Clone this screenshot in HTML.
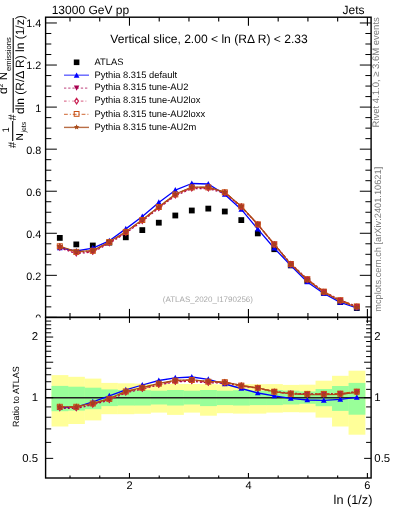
<!DOCTYPE html><html><head><meta charset="utf-8"><style>html,body{margin:0;padding:0;background:#fff;}svg{display:block;will-change:transform;}text{font-family:"Liberation Sans", sans-serif;text-rendering:geometricPrecision;}</style></head><body>
<svg width="393" height="512" viewBox="0 0 393 512">
<rect x="0" y="0" width="393" height="512" fill="#fff"/>
<rect x="51.55" y="375.10" width="16.80" height="51.40" fill="#ffff99"/>
<rect x="68.05" y="376.80" width="16.80" height="47.20" fill="#ffff99"/>
<rect x="84.55" y="378.60" width="16.80" height="41.80" fill="#ffff99"/>
<rect x="101.05" y="382.90" width="16.80" height="31.30" fill="#ffff99"/>
<rect x="117.55" y="383.30" width="16.80" height="30.90" fill="#ffff99"/>
<rect x="134.05" y="383.60" width="16.80" height="30.20" fill="#ffff99"/>
<rect x="150.55" y="384.00" width="16.80" height="28.60" fill="#ffff99"/>
<rect x="167.05" y="384.00" width="16.80" height="30.90" fill="#ffff99"/>
<rect x="183.55" y="384.00" width="16.80" height="28.60" fill="#ffff99"/>
<rect x="200.05" y="384.20" width="16.80" height="31.50" fill="#ffff99"/>
<rect x="216.55" y="384.40" width="16.80" height="28.80" fill="#ffff99"/>
<rect x="233.05" y="384.20" width="16.80" height="29.40" fill="#ffff99"/>
<rect x="249.55" y="384.20" width="16.80" height="29.40" fill="#ffff99"/>
<rect x="266.05" y="384.10" width="16.80" height="28.50" fill="#ffff99"/>
<rect x="282.55" y="384.90" width="16.80" height="27.30" fill="#ffff99"/>
<rect x="299.05" y="384.70" width="16.80" height="27.70" fill="#ffff99"/>
<rect x="315.55" y="380.70" width="16.80" height="36.90" fill="#ffff99"/>
<rect x="332.05" y="375.80" width="16.80" height="50.70" fill="#ffff99"/>
<rect x="348.55" y="370.70" width="16.80" height="64.00" fill="#ffff99"/>
<rect x="51.55" y="385.90" width="16.80" height="25.30" fill="#99ff99"/>
<rect x="68.05" y="386.70" width="16.80" height="23.90" fill="#99ff99"/>
<rect x="84.55" y="387.70" width="16.80" height="21.50" fill="#99ff99"/>
<rect x="101.05" y="389.40" width="16.80" height="16.70" fill="#99ff99"/>
<rect x="117.55" y="390.00" width="16.80" height="15.50" fill="#99ff99"/>
<rect x="134.05" y="390.20" width="16.80" height="15.30" fill="#99ff99"/>
<rect x="150.55" y="390.70" width="16.80" height="13.80" fill="#99ff99"/>
<rect x="167.05" y="390.00" width="16.80" height="15.50" fill="#99ff99"/>
<rect x="183.55" y="390.70" width="16.80" height="13.80" fill="#99ff99"/>
<rect x="200.05" y="390.00" width="16.80" height="16.10" fill="#99ff99"/>
<rect x="216.55" y="390.70" width="16.80" height="14.40" fill="#99ff99"/>
<rect x="233.05" y="390.20" width="16.80" height="15.30" fill="#99ff99"/>
<rect x="249.55" y="390.70" width="16.80" height="14.40" fill="#99ff99"/>
<rect x="266.05" y="390.00" width="16.80" height="15.10" fill="#99ff99"/>
<rect x="282.55" y="390.70" width="16.80" height="13.80" fill="#99ff99"/>
<rect x="299.05" y="391.50" width="16.80" height="12.30" fill="#99ff99"/>
<rect x="315.55" y="389.00" width="16.80" height="17.20" fill="#99ff99"/>
<rect x="332.05" y="386.00" width="16.80" height="24.90" fill="#99ff99"/>
<rect x="348.55" y="382.90" width="16.80" height="31.80" fill="#99ff99"/>
<line x1="45.6" y1="397.7" x2="371.1" y2="397.7" stroke="#222" stroke-width="1.4"/>
<defs><clipPath id="cm"><rect x="45.6" y="17.2" width="325.5" height="300.2"/></clipPath><clipPath id="cr"><rect x="45.6" y="317.4" width="325.5" height="160.6"/></clipPath></defs>
<g clip-path="url(#cm)"><rect x="56.90" y="235.00" width="5.80" height="5.80" fill="#000"/><rect x="73.40" y="241.50" width="5.80" height="5.80" fill="#000"/><rect x="89.90" y="242.60" width="5.80" height="5.80" fill="#000"/><rect x="106.40" y="239.70" width="5.80" height="5.80" fill="#000"/><rect x="122.90" y="234.40" width="5.80" height="5.80" fill="#000"/><rect x="139.40" y="227.20" width="5.80" height="5.80" fill="#000"/><rect x="155.90" y="219.80" width="5.80" height="5.80" fill="#000"/><rect x="172.40" y="212.60" width="5.80" height="5.80" fill="#000"/><rect x="188.90" y="207.60" width="5.80" height="5.80" fill="#000"/><rect x="205.40" y="205.70" width="5.80" height="5.80" fill="#000"/><rect x="221.90" y="208.60" width="5.80" height="5.80" fill="#000"/><rect x="238.40" y="217.20" width="5.80" height="5.80" fill="#000"/><rect x="254.90" y="230.50" width="5.80" height="5.80" fill="#000"/><rect x="271.40" y="246.30" width="5.80" height="5.80" fill="#000"/><rect x="287.90" y="262.50" width="5.80" height="5.80" fill="#000"/><rect x="304.40" y="278.00" width="5.80" height="5.80" fill="#000"/><rect x="320.90" y="289.90" width="5.80" height="5.80" fill="#000"/><rect x="337.40" y="299.20" width="5.80" height="5.80" fill="#000"/><rect x="353.90" y="305.10" width="5.80" height="5.80" fill="#000"/><polyline points="59.80,247.90 76.30,251.00 92.80,248.20 109.30,240.80 125.80,228.90 142.30,216.60 158.80,202.40 175.30,190.20 191.80,183.50 208.30,184.00 224.80,194.40 241.30,209.40 257.80,229.20 274.30,248.20 290.80,265.50 307.30,282.00 323.80,293.50 340.30,302.40 356.80,308.00" fill="none" stroke="#0000ff" stroke-width="1.30" stroke-linejoin="round"/><path d="M59.80,244.78 L56.94,250.24 L62.66,250.24 Z" fill="#0000ff"/><path d="M76.30,247.88 L73.44,253.34 L79.16,253.34 Z" fill="#0000ff"/><path d="M92.80,245.08 L89.94,250.54 L95.66,250.54 Z" fill="#0000ff"/><path d="M109.30,237.68 L106.44,243.14 L112.16,243.14 Z" fill="#0000ff"/><path d="M125.80,225.78 L122.94,231.24 L128.66,231.24 Z" fill="#0000ff"/><path d="M142.30,213.48 L139.44,218.94 L145.16,218.94 Z" fill="#0000ff"/><path d="M158.80,199.28 L155.94,204.74 L161.66,204.74 Z" fill="#0000ff"/><path d="M175.30,187.08 L172.44,192.54 L178.16,192.54 Z" fill="#0000ff"/><path d="M191.80,180.38 L188.94,185.84 L194.66,185.84 Z" fill="#0000ff"/><path d="M208.30,180.88 L205.44,186.34 L211.16,186.34 Z" fill="#0000ff"/><path d="M224.80,191.28 L221.94,196.74 L227.66,196.74 Z" fill="#0000ff"/><path d="M241.30,206.28 L238.44,211.74 L244.16,211.74 Z" fill="#0000ff"/><path d="M257.80,226.08 L254.94,231.54 L260.66,231.54 Z" fill="#0000ff"/><path d="M274.30,245.08 L271.44,250.54 L277.16,250.54 Z" fill="#0000ff"/><path d="M290.80,262.38 L287.94,267.84 L293.66,267.84 Z" fill="#0000ff"/><path d="M307.30,278.88 L304.44,284.34 L310.16,284.34 Z" fill="#0000ff"/><path d="M323.80,290.38 L320.94,295.84 L326.66,295.84 Z" fill="#0000ff"/><path d="M340.30,299.28 L337.44,304.74 L343.16,304.74 Z" fill="#0000ff"/><path d="M356.80,304.88 L353.94,310.34 L359.66,310.34 Z" fill="#0000ff"/><polyline points="59.80,247.80 76.30,253.60 92.80,252.00 109.30,243.30 125.80,233.10 142.30,221.20 158.80,208.20 175.30,195.60 191.80,188.60 208.30,188.60 224.80,193.10 241.30,206.90 257.80,224.50 274.30,244.10 290.80,263.60 307.30,279.20 323.80,291.60 340.30,300.20 356.80,306.40" fill="none" stroke="#a80050" stroke-width="1.30" stroke-dasharray="2,2" stroke-linejoin="round"/><polyline points="59.80,246.80 76.30,252.60 92.80,251.30 109.30,242.60 125.80,232.40 142.30,220.50 158.80,207.50 175.30,194.90 191.80,187.90 208.30,187.90 224.80,192.60 241.30,206.70 257.80,224.60 274.30,244.60 290.80,264.20 307.30,279.70 323.80,292.10 340.30,300.70 356.80,306.90" fill="none" stroke="#c81e50" stroke-width="1.30" stroke-dasharray="4,2,1,2" stroke-linejoin="round"/><polyline points="59.80,246.30 76.30,251.90 92.80,250.80 109.30,242.10 125.80,231.90 142.30,220.00 158.80,207.00 175.30,194.40 191.80,187.40 208.30,187.40 224.80,192.30 241.30,206.50 257.80,224.30 274.30,244.40 290.80,264.20 307.30,279.20 323.80,291.60 340.30,300.20 356.80,306.40" fill="none" stroke="#c85014" stroke-width="1.30" stroke-dasharray="5,2,1,2" stroke-linejoin="round"/><polyline points="59.80,246.30 76.30,251.60 92.80,250.50 109.30,241.80 125.80,231.60 142.30,219.70 158.80,206.70 175.30,194.10 191.80,187.10 208.30,187.10 224.80,192.10 241.30,206.30 257.80,224.30 274.30,244.40 290.80,264.20 307.30,280.00 323.80,292.40 340.30,301.00 356.80,307.20" fill="none" stroke="#a84a18" stroke-width="1.10" stroke-linejoin="round"/><path d="M59.80,251.16 L56.72,245.28 L62.88,245.28 Z" fill="#a80050"/><path d="M76.30,256.96 L73.22,251.08 L79.38,251.08 Z" fill="#a80050"/><path d="M92.80,255.36 L89.72,249.48 L95.88,249.48 Z" fill="#a80050"/><path d="M109.30,246.66 L106.22,240.78 L112.38,240.78 Z" fill="#a80050"/><path d="M125.80,236.46 L122.72,230.58 L128.88,230.58 Z" fill="#a80050"/><path d="M142.30,224.56 L139.22,218.68 L145.38,218.68 Z" fill="#a80050"/><path d="M158.80,211.56 L155.72,205.68 L161.88,205.68 Z" fill="#a80050"/><path d="M175.30,198.96 L172.22,193.08 L178.38,193.08 Z" fill="#a80050"/><path d="M191.80,191.96 L188.72,186.08 L194.88,186.08 Z" fill="#a80050"/><path d="M208.30,191.96 L205.22,186.08 L211.38,186.08 Z" fill="#a80050"/><path d="M224.80,196.46 L221.72,190.58 L227.88,190.58 Z" fill="#a80050"/><path d="M241.30,210.26 L238.22,204.38 L244.38,204.38 Z" fill="#a80050"/><path d="M257.80,227.86 L254.72,221.98 L260.88,221.98 Z" fill="#a80050"/><path d="M274.30,247.46 L271.22,241.58 L277.38,241.58 Z" fill="#a80050"/><path d="M290.80,266.96 L287.72,261.08 L293.88,261.08 Z" fill="#a80050"/><path d="M307.30,282.56 L304.22,276.68 L310.38,276.68 Z" fill="#a80050"/><path d="M323.80,294.96 L320.72,289.08 L326.88,289.08 Z" fill="#a80050"/><path d="M340.30,303.56 L337.22,297.68 L343.38,297.68 Z" fill="#a80050"/><path d="M356.80,309.76 L353.72,303.88 L359.88,303.88 Z" fill="#a80050"/><path d="M59.80,244.00 L62.04,246.80 L59.80,249.60 L57.56,246.80 Z" fill="none" stroke="#c81e50" stroke-width="1.1"/><path d="M76.30,249.80 L78.54,252.60 L76.30,255.40 L74.06,252.60 Z" fill="none" stroke="#c81e50" stroke-width="1.1"/><path d="M92.80,248.50 L95.04,251.30 L92.80,254.10 L90.56,251.30 Z" fill="none" stroke="#c81e50" stroke-width="1.1"/><path d="M109.30,239.80 L111.54,242.60 L109.30,245.40 L107.06,242.60 Z" fill="none" stroke="#c81e50" stroke-width="1.1"/><path d="M125.80,229.60 L128.04,232.40 L125.80,235.20 L123.56,232.40 Z" fill="none" stroke="#c81e50" stroke-width="1.1"/><path d="M142.30,217.70 L144.54,220.50 L142.30,223.30 L140.06,220.50 Z" fill="none" stroke="#c81e50" stroke-width="1.1"/><path d="M158.80,204.70 L161.04,207.50 L158.80,210.30 L156.56,207.50 Z" fill="none" stroke="#c81e50" stroke-width="1.1"/><path d="M175.30,192.10 L177.54,194.90 L175.30,197.70 L173.06,194.90 Z" fill="none" stroke="#c81e50" stroke-width="1.1"/><path d="M191.80,185.10 L194.04,187.90 L191.80,190.70 L189.56,187.90 Z" fill="none" stroke="#c81e50" stroke-width="1.1"/><path d="M208.30,185.10 L210.54,187.90 L208.30,190.70 L206.06,187.90 Z" fill="none" stroke="#c81e50" stroke-width="1.1"/><path d="M224.80,189.80 L227.04,192.60 L224.80,195.40 L222.56,192.60 Z" fill="none" stroke="#c81e50" stroke-width="1.1"/><path d="M241.30,203.90 L243.54,206.70 L241.30,209.50 L239.06,206.70 Z" fill="none" stroke="#c81e50" stroke-width="1.1"/><path d="M257.80,221.80 L260.04,224.60 L257.80,227.40 L255.56,224.60 Z" fill="none" stroke="#c81e50" stroke-width="1.1"/><path d="M274.30,241.80 L276.54,244.60 L274.30,247.40 L272.06,244.60 Z" fill="none" stroke="#c81e50" stroke-width="1.1"/><path d="M290.80,261.40 L293.04,264.20 L290.80,267.00 L288.56,264.20 Z" fill="none" stroke="#c81e50" stroke-width="1.1"/><path d="M307.30,276.90 L309.54,279.70 L307.30,282.50 L305.06,279.70 Z" fill="none" stroke="#c81e50" stroke-width="1.1"/><path d="M323.80,289.30 L326.04,292.10 L323.80,294.90 L321.56,292.10 Z" fill="none" stroke="#c81e50" stroke-width="1.1"/><path d="M340.30,297.90 L342.54,300.70 L340.30,303.50 L338.06,300.70 Z" fill="none" stroke="#c81e50" stroke-width="1.1"/><path d="M356.80,304.10 L359.04,306.90 L356.80,309.70 L354.56,306.90 Z" fill="none" stroke="#c81e50" stroke-width="1.1"/><rect x="57.30" y="243.80" width="5.00" height="5.00" fill="none" stroke="#c85014" stroke-width="1.0"/><rect x="73.80" y="249.40" width="5.00" height="5.00" fill="none" stroke="#c85014" stroke-width="1.0"/><rect x="90.30" y="248.30" width="5.00" height="5.00" fill="none" stroke="#c85014" stroke-width="1.0"/><rect x="106.80" y="239.60" width="5.00" height="5.00" fill="none" stroke="#c85014" stroke-width="1.0"/><rect x="123.30" y="229.40" width="5.00" height="5.00" fill="none" stroke="#c85014" stroke-width="1.0"/><rect x="139.80" y="217.50" width="5.00" height="5.00" fill="none" stroke="#c85014" stroke-width="1.0"/><rect x="156.30" y="204.50" width="5.00" height="5.00" fill="none" stroke="#c85014" stroke-width="1.0"/><rect x="172.80" y="191.90" width="5.00" height="5.00" fill="none" stroke="#c85014" stroke-width="1.0"/><rect x="189.30" y="184.90" width="5.00" height="5.00" fill="none" stroke="#c85014" stroke-width="1.0"/><rect x="205.80" y="184.90" width="5.00" height="5.00" fill="none" stroke="#c85014" stroke-width="1.0"/><rect x="222.30" y="189.80" width="5.00" height="5.00" fill="none" stroke="#c85014" stroke-width="1.0"/><rect x="238.80" y="204.00" width="5.00" height="5.00" fill="none" stroke="#c85014" stroke-width="1.0"/><rect x="255.30" y="221.80" width="5.00" height="5.00" fill="none" stroke="#c85014" stroke-width="1.0"/><rect x="271.80" y="241.90" width="5.00" height="5.00" fill="none" stroke="#c85014" stroke-width="1.0"/><rect x="288.30" y="261.70" width="5.00" height="5.00" fill="none" stroke="#c85014" stroke-width="1.0"/><rect x="304.80" y="276.70" width="5.00" height="5.00" fill="none" stroke="#c85014" stroke-width="1.0"/><rect x="321.30" y="289.10" width="5.00" height="5.00" fill="none" stroke="#c85014" stroke-width="1.0"/><rect x="337.80" y="297.70" width="5.00" height="5.00" fill="none" stroke="#c85014" stroke-width="1.0"/><rect x="354.30" y="303.90" width="5.00" height="5.00" fill="none" stroke="#c85014" stroke-width="1.0"/><polygon points="59.80,243.00 60.66,245.11 62.94,245.28 61.19,246.75 61.74,248.97 59.80,247.77 57.86,248.97 58.41,246.75 56.66,245.28 58.94,245.11" fill="#a8401c"/><polygon points="76.30,248.30 77.16,250.41 79.44,250.58 77.69,252.05 78.24,254.27 76.30,253.07 74.36,254.27 74.91,252.05 73.16,250.58 75.44,250.41" fill="#a8401c"/><polygon points="92.80,247.20 93.66,249.31 95.94,249.48 94.19,250.95 94.74,253.17 92.80,251.97 90.86,253.17 91.41,250.95 89.66,249.48 91.94,249.31" fill="#a8401c"/><polygon points="109.30,238.50 110.16,240.61 112.44,240.78 110.69,242.25 111.24,244.47 109.30,243.27 107.36,244.47 107.91,242.25 106.16,240.78 108.44,240.61" fill="#a8401c"/><polygon points="125.80,228.30 126.66,230.41 128.94,230.58 127.19,232.05 127.74,234.27 125.80,233.07 123.86,234.27 124.41,232.05 122.66,230.58 124.94,230.41" fill="#a8401c"/><polygon points="142.30,216.40 143.16,218.51 145.44,218.68 143.69,220.15 144.24,222.37 142.30,221.17 140.36,222.37 140.91,220.15 139.16,218.68 141.44,218.51" fill="#a8401c"/><polygon points="158.80,203.40 159.66,205.51 161.94,205.68 160.19,207.15 160.74,209.37 158.80,208.17 156.86,209.37 157.41,207.15 155.66,205.68 157.94,205.51" fill="#a8401c"/><polygon points="175.30,190.80 176.16,192.91 178.44,193.08 176.69,194.55 177.24,196.77 175.30,195.57 173.36,196.77 173.91,194.55 172.16,193.08 174.44,192.91" fill="#a8401c"/><polygon points="191.80,183.80 192.66,185.91 194.94,186.08 193.19,187.55 193.74,189.77 191.80,188.57 189.86,189.77 190.41,187.55 188.66,186.08 190.94,185.91" fill="#a8401c"/><polygon points="208.30,183.80 209.16,185.91 211.44,186.08 209.69,187.55 210.24,189.77 208.30,188.57 206.36,189.77 206.91,187.55 205.16,186.08 207.44,185.91" fill="#a8401c"/><polygon points="224.80,188.80 225.66,190.91 227.94,191.08 226.19,192.55 226.74,194.77 224.80,193.57 222.86,194.77 223.41,192.55 221.66,191.08 223.94,190.91" fill="#a8401c"/><polygon points="241.30,203.00 242.16,205.11 244.44,205.28 242.69,206.75 243.24,208.97 241.30,207.77 239.36,208.97 239.91,206.75 238.16,205.28 240.44,205.11" fill="#a8401c"/><polygon points="257.80,221.00 258.66,223.11 260.94,223.28 259.19,224.75 259.74,226.97 257.80,225.77 255.86,226.97 256.41,224.75 254.66,223.28 256.94,223.11" fill="#a8401c"/><polygon points="274.30,241.10 275.16,243.21 277.44,243.38 275.69,244.85 276.24,247.07 274.30,245.87 272.36,247.07 272.91,244.85 271.16,243.38 273.44,243.21" fill="#a8401c"/><polygon points="290.80,260.90 291.66,263.01 293.94,263.18 292.19,264.65 292.74,266.87 290.80,265.67 288.86,266.87 289.41,264.65 287.66,263.18 289.94,263.01" fill="#a8401c"/><polygon points="307.30,276.70 308.16,278.81 310.44,278.98 308.69,280.45 309.24,282.67 307.30,281.47 305.36,282.67 305.91,280.45 304.16,278.98 306.44,278.81" fill="#a8401c"/><polygon points="323.80,289.10 324.66,291.21 326.94,291.38 325.19,292.85 325.74,295.07 323.80,293.87 321.86,295.07 322.41,292.85 320.66,291.38 322.94,291.21" fill="#a8401c"/><polygon points="340.30,297.70 341.16,299.81 343.44,299.98 341.69,301.45 342.24,303.67 340.30,302.47 338.36,303.67 338.91,301.45 337.16,299.98 339.44,299.81" fill="#a8401c"/><polygon points="356.80,303.90 357.66,306.01 359.94,306.18 358.19,307.65 358.74,309.87 356.80,308.67 354.86,309.87 355.41,307.65 353.66,306.18 355.94,306.01" fill="#a8401c"/></g>
<g clip-path="url(#cr)"><polyline points="59.80,407.60 76.30,407.20 92.80,401.80 109.30,395.90 125.80,389.80 142.30,385.00 158.80,380.50 175.30,377.80 191.80,377.00 208.30,379.30 224.80,384.00 241.30,388.50 257.80,393.00 274.30,395.80 290.80,398.40 307.30,400.00 323.80,400.30 340.30,399.30 356.80,397.40" fill="none" stroke="#0000ff" stroke-width="1.30" stroke-linejoin="round"/><path d="M59.80,404.48 L56.94,409.94 L62.66,409.94 Z" fill="#0000ff"/><path d="M76.30,404.08 L73.44,409.54 L79.16,409.54 Z" fill="#0000ff"/><path d="M92.80,398.68 L89.94,404.14 L95.66,404.14 Z" fill="#0000ff"/><path d="M109.30,392.78 L106.44,398.24 L112.16,398.24 Z" fill="#0000ff"/><path d="M125.80,386.68 L122.94,392.14 L128.66,392.14 Z" fill="#0000ff"/><path d="M142.30,381.88 L139.44,387.34 L145.16,387.34 Z" fill="#0000ff"/><path d="M158.80,377.38 L155.94,382.84 L161.66,382.84 Z" fill="#0000ff"/><path d="M175.30,374.68 L172.44,380.14 L178.16,380.14 Z" fill="#0000ff"/><path d="M191.80,373.88 L188.94,379.34 L194.66,379.34 Z" fill="#0000ff"/><path d="M208.30,376.18 L205.44,381.64 L211.16,381.64 Z" fill="#0000ff"/><path d="M224.80,380.88 L221.94,386.34 L227.66,386.34 Z" fill="#0000ff"/><path d="M241.30,385.38 L238.44,390.84 L244.16,390.84 Z" fill="#0000ff"/><path d="M257.80,389.88 L254.94,395.34 L260.66,395.34 Z" fill="#0000ff"/><path d="M274.30,392.68 L271.44,398.14 L277.16,398.14 Z" fill="#0000ff"/><path d="M290.80,395.28 L287.94,400.74 L293.66,400.74 Z" fill="#0000ff"/><path d="M307.30,396.88 L304.44,402.34 L310.16,402.34 Z" fill="#0000ff"/><path d="M323.80,397.18 L320.94,402.64 L326.66,402.64 Z" fill="#0000ff"/><path d="M340.30,396.18 L337.44,401.64 L343.16,401.64 Z" fill="#0000ff"/><path d="M356.80,394.28 L353.94,399.74 L359.66,399.74 Z" fill="#0000ff"/><polyline points="59.80,408.30 76.30,408.50 92.80,404.70 109.30,400.10 125.80,392.70 142.30,389.00 158.80,384.90 175.30,381.90 191.80,381.20 208.30,382.90 224.80,383.00 241.30,386.00 257.80,388.10 274.30,391.40 290.80,393.20 307.30,393.90 323.80,393.90 340.30,393.60 356.80,391.60" fill="none" stroke="#a80050" stroke-width="1.30" stroke-dasharray="2,2" stroke-linejoin="round"/><polyline points="59.80,407.30 76.30,407.50 92.80,404.00 109.30,399.40 125.80,392.00 142.30,388.30 158.80,384.20 175.30,381.20 191.80,380.50 208.30,382.20 224.80,382.50 241.30,385.80 257.80,388.20 274.30,391.90 290.80,393.80 307.30,394.40 323.80,394.40 340.30,394.10 356.80,392.10" fill="none" stroke="#c81e50" stroke-width="1.30" stroke-dasharray="4,2,1,2" stroke-linejoin="round"/><polyline points="59.80,406.80 76.30,406.80 92.80,403.50 109.30,398.90 125.80,391.50 142.30,387.80 158.80,383.70 175.30,380.70 191.80,380.00 208.30,381.70 224.80,382.20 241.30,385.60 257.80,387.90 274.30,391.70 290.80,393.80 307.30,393.90 323.80,393.90 340.30,393.60 356.80,391.60" fill="none" stroke="#c85014" stroke-width="1.30" stroke-dasharray="5,2,1,2" stroke-linejoin="round"/><polyline points="59.80,406.80 76.30,406.50 92.80,403.20 109.30,398.60 125.80,391.20 142.30,387.50 158.80,383.40 175.30,380.40 191.80,379.70 208.30,381.40 224.80,382.00 241.30,385.40 257.80,387.90 274.30,391.70 290.80,393.80 307.30,394.70 323.80,394.70 340.30,394.40 356.80,392.40" fill="none" stroke="#a84a18" stroke-width="1.10" stroke-linejoin="round"/><path d="M59.80,411.66 L56.72,405.78 L62.88,405.78 Z" fill="#a80050"/><path d="M76.30,411.86 L73.22,405.98 L79.38,405.98 Z" fill="#a80050"/><path d="M92.80,408.06 L89.72,402.18 L95.88,402.18 Z" fill="#a80050"/><path d="M109.30,403.46 L106.22,397.58 L112.38,397.58 Z" fill="#a80050"/><path d="M125.80,396.06 L122.72,390.18 L128.88,390.18 Z" fill="#a80050"/><path d="M142.30,392.36 L139.22,386.48 L145.38,386.48 Z" fill="#a80050"/><path d="M158.80,388.26 L155.72,382.38 L161.88,382.38 Z" fill="#a80050"/><path d="M175.30,385.26 L172.22,379.38 L178.38,379.38 Z" fill="#a80050"/><path d="M191.80,384.56 L188.72,378.68 L194.88,378.68 Z" fill="#a80050"/><path d="M208.30,386.26 L205.22,380.38 L211.38,380.38 Z" fill="#a80050"/><path d="M224.80,386.36 L221.72,380.48 L227.88,380.48 Z" fill="#a80050"/><path d="M241.30,389.36 L238.22,383.48 L244.38,383.48 Z" fill="#a80050"/><path d="M257.80,391.46 L254.72,385.58 L260.88,385.58 Z" fill="#a80050"/><path d="M274.30,394.76 L271.22,388.88 L277.38,388.88 Z" fill="#a80050"/><path d="M290.80,396.56 L287.72,390.68 L293.88,390.68 Z" fill="#a80050"/><path d="M307.30,397.26 L304.22,391.38 L310.38,391.38 Z" fill="#a80050"/><path d="M323.80,397.26 L320.72,391.38 L326.88,391.38 Z" fill="#a80050"/><path d="M340.30,396.96 L337.22,391.08 L343.38,391.08 Z" fill="#a80050"/><path d="M356.80,394.96 L353.72,389.08 L359.88,389.08 Z" fill="#a80050"/><path d="M59.80,404.50 L62.04,407.30 L59.80,410.10 L57.56,407.30 Z" fill="none" stroke="#c81e50" stroke-width="1.1"/><path d="M76.30,404.70 L78.54,407.50 L76.30,410.30 L74.06,407.50 Z" fill="none" stroke="#c81e50" stroke-width="1.1"/><path d="M92.80,401.20 L95.04,404.00 L92.80,406.80 L90.56,404.00 Z" fill="none" stroke="#c81e50" stroke-width="1.1"/><path d="M109.30,396.60 L111.54,399.40 L109.30,402.20 L107.06,399.40 Z" fill="none" stroke="#c81e50" stroke-width="1.1"/><path d="M125.80,389.20 L128.04,392.00 L125.80,394.80 L123.56,392.00 Z" fill="none" stroke="#c81e50" stroke-width="1.1"/><path d="M142.30,385.50 L144.54,388.30 L142.30,391.10 L140.06,388.30 Z" fill="none" stroke="#c81e50" stroke-width="1.1"/><path d="M158.80,381.40 L161.04,384.20 L158.80,387.00 L156.56,384.20 Z" fill="none" stroke="#c81e50" stroke-width="1.1"/><path d="M175.30,378.40 L177.54,381.20 L175.30,384.00 L173.06,381.20 Z" fill="none" stroke="#c81e50" stroke-width="1.1"/><path d="M191.80,377.70 L194.04,380.50 L191.80,383.30 L189.56,380.50 Z" fill="none" stroke="#c81e50" stroke-width="1.1"/><path d="M208.30,379.40 L210.54,382.20 L208.30,385.00 L206.06,382.20 Z" fill="none" stroke="#c81e50" stroke-width="1.1"/><path d="M224.80,379.70 L227.04,382.50 L224.80,385.30 L222.56,382.50 Z" fill="none" stroke="#c81e50" stroke-width="1.1"/><path d="M241.30,383.00 L243.54,385.80 L241.30,388.60 L239.06,385.80 Z" fill="none" stroke="#c81e50" stroke-width="1.1"/><path d="M257.80,385.40 L260.04,388.20 L257.80,391.00 L255.56,388.20 Z" fill="none" stroke="#c81e50" stroke-width="1.1"/><path d="M274.30,389.10 L276.54,391.90 L274.30,394.70 L272.06,391.90 Z" fill="none" stroke="#c81e50" stroke-width="1.1"/><path d="M290.80,391.00 L293.04,393.80 L290.80,396.60 L288.56,393.80 Z" fill="none" stroke="#c81e50" stroke-width="1.1"/><path d="M307.30,391.60 L309.54,394.40 L307.30,397.20 L305.06,394.40 Z" fill="none" stroke="#c81e50" stroke-width="1.1"/><path d="M323.80,391.60 L326.04,394.40 L323.80,397.20 L321.56,394.40 Z" fill="none" stroke="#c81e50" stroke-width="1.1"/><path d="M340.30,391.30 L342.54,394.10 L340.30,396.90 L338.06,394.10 Z" fill="none" stroke="#c81e50" stroke-width="1.1"/><path d="M356.80,389.30 L359.04,392.10 L356.80,394.90 L354.56,392.10 Z" fill="none" stroke="#c81e50" stroke-width="1.1"/><rect x="57.30" y="404.30" width="5.00" height="5.00" fill="none" stroke="#c85014" stroke-width="1.0"/><rect x="73.80" y="404.30" width="5.00" height="5.00" fill="none" stroke="#c85014" stroke-width="1.0"/><rect x="90.30" y="401.00" width="5.00" height="5.00" fill="none" stroke="#c85014" stroke-width="1.0"/><rect x="106.80" y="396.40" width="5.00" height="5.00" fill="none" stroke="#c85014" stroke-width="1.0"/><rect x="123.30" y="389.00" width="5.00" height="5.00" fill="none" stroke="#c85014" stroke-width="1.0"/><rect x="139.80" y="385.30" width="5.00" height="5.00" fill="none" stroke="#c85014" stroke-width="1.0"/><rect x="156.30" y="381.20" width="5.00" height="5.00" fill="none" stroke="#c85014" stroke-width="1.0"/><rect x="172.80" y="378.20" width="5.00" height="5.00" fill="none" stroke="#c85014" stroke-width="1.0"/><rect x="189.30" y="377.50" width="5.00" height="5.00" fill="none" stroke="#c85014" stroke-width="1.0"/><rect x="205.80" y="379.20" width="5.00" height="5.00" fill="none" stroke="#c85014" stroke-width="1.0"/><rect x="222.30" y="379.70" width="5.00" height="5.00" fill="none" stroke="#c85014" stroke-width="1.0"/><rect x="238.80" y="383.10" width="5.00" height="5.00" fill="none" stroke="#c85014" stroke-width="1.0"/><rect x="255.30" y="385.40" width="5.00" height="5.00" fill="none" stroke="#c85014" stroke-width="1.0"/><rect x="271.80" y="389.20" width="5.00" height="5.00" fill="none" stroke="#c85014" stroke-width="1.0"/><rect x="288.30" y="391.30" width="5.00" height="5.00" fill="none" stroke="#c85014" stroke-width="1.0"/><rect x="304.80" y="391.40" width="5.00" height="5.00" fill="none" stroke="#c85014" stroke-width="1.0"/><rect x="321.30" y="391.40" width="5.00" height="5.00" fill="none" stroke="#c85014" stroke-width="1.0"/><rect x="337.80" y="391.10" width="5.00" height="5.00" fill="none" stroke="#c85014" stroke-width="1.0"/><rect x="354.30" y="389.10" width="5.00" height="5.00" fill="none" stroke="#c85014" stroke-width="1.0"/><polygon points="59.80,403.50 60.66,405.61 62.94,405.78 61.19,407.25 61.74,409.47 59.80,408.27 57.86,409.47 58.41,407.25 56.66,405.78 58.94,405.61" fill="#a8401c"/><polygon points="76.30,403.20 77.16,405.31 79.44,405.48 77.69,406.95 78.24,409.17 76.30,407.97 74.36,409.17 74.91,406.95 73.16,405.48 75.44,405.31" fill="#a8401c"/><polygon points="92.80,399.90 93.66,402.01 95.94,402.18 94.19,403.65 94.74,405.87 92.80,404.67 90.86,405.87 91.41,403.65 89.66,402.18 91.94,402.01" fill="#a8401c"/><polygon points="109.30,395.30 110.16,397.41 112.44,397.58 110.69,399.05 111.24,401.27 109.30,400.07 107.36,401.27 107.91,399.05 106.16,397.58 108.44,397.41" fill="#a8401c"/><polygon points="125.80,387.90 126.66,390.01 128.94,390.18 127.19,391.65 127.74,393.87 125.80,392.67 123.86,393.87 124.41,391.65 122.66,390.18 124.94,390.01" fill="#a8401c"/><polygon points="142.30,384.20 143.16,386.31 145.44,386.48 143.69,387.95 144.24,390.17 142.30,388.97 140.36,390.17 140.91,387.95 139.16,386.48 141.44,386.31" fill="#a8401c"/><polygon points="158.80,380.10 159.66,382.21 161.94,382.38 160.19,383.85 160.74,386.07 158.80,384.87 156.86,386.07 157.41,383.85 155.66,382.38 157.94,382.21" fill="#a8401c"/><polygon points="175.30,377.10 176.16,379.21 178.44,379.38 176.69,380.85 177.24,383.07 175.30,381.87 173.36,383.07 173.91,380.85 172.16,379.38 174.44,379.21" fill="#a8401c"/><polygon points="191.80,376.40 192.66,378.51 194.94,378.68 193.19,380.15 193.74,382.37 191.80,381.17 189.86,382.37 190.41,380.15 188.66,378.68 190.94,378.51" fill="#a8401c"/><polygon points="208.30,378.10 209.16,380.21 211.44,380.38 209.69,381.85 210.24,384.07 208.30,382.87 206.36,384.07 206.91,381.85 205.16,380.38 207.44,380.21" fill="#a8401c"/><polygon points="224.80,378.70 225.66,380.81 227.94,380.98 226.19,382.45 226.74,384.67 224.80,383.47 222.86,384.67 223.41,382.45 221.66,380.98 223.94,380.81" fill="#a8401c"/><polygon points="241.30,382.10 242.16,384.21 244.44,384.38 242.69,385.85 243.24,388.07 241.30,386.87 239.36,388.07 239.91,385.85 238.16,384.38 240.44,384.21" fill="#a8401c"/><polygon points="257.80,384.60 258.66,386.71 260.94,386.88 259.19,388.35 259.74,390.57 257.80,389.37 255.86,390.57 256.41,388.35 254.66,386.88 256.94,386.71" fill="#a8401c"/><polygon points="274.30,388.40 275.16,390.51 277.44,390.68 275.69,392.15 276.24,394.37 274.30,393.17 272.36,394.37 272.91,392.15 271.16,390.68 273.44,390.51" fill="#a8401c"/><polygon points="290.80,390.50 291.66,392.61 293.94,392.78 292.19,394.25 292.74,396.47 290.80,395.27 288.86,396.47 289.41,394.25 287.66,392.78 289.94,392.61" fill="#a8401c"/><polygon points="307.30,391.40 308.16,393.51 310.44,393.68 308.69,395.15 309.24,397.37 307.30,396.17 305.36,397.37 305.91,395.15 304.16,393.68 306.44,393.51" fill="#a8401c"/><polygon points="323.80,391.40 324.66,393.51 326.94,393.68 325.19,395.15 325.74,397.37 323.80,396.17 321.86,397.37 322.41,395.15 320.66,393.68 322.94,393.51" fill="#a8401c"/><polygon points="340.30,391.10 341.16,393.21 343.44,393.38 341.69,394.85 342.24,397.07 340.30,395.87 338.36,397.07 338.91,394.85 337.16,393.38 339.44,393.21" fill="#a8401c"/><polygon points="356.80,389.10 357.66,391.21 359.94,391.38 358.19,392.85 358.74,395.07 356.80,393.87 354.86,395.07 355.41,392.85 353.66,391.38 355.94,391.21" fill="#a8401c"/></g>
<g stroke="#000" fill="none">
<rect x="45.60" y="17.20" width="325.50" height="300.20" stroke-width="1.4"/>
<rect x="45.60" y="317.40" width="325.50" height="160.60" stroke-width="1.4"/>
<line x1="45.60" y1="317.40" x2="56.90" y2="317.40" stroke-width="1.0"/>
<line x1="371.10" y1="317.40" x2="359.80" y2="317.40" stroke-width="1.0"/>
<line x1="45.60" y1="306.88" x2="51.30" y2="306.88" stroke-width="1.0"/>
<line x1="371.10" y1="306.88" x2="365.40" y2="306.88" stroke-width="1.0"/>
<line x1="45.60" y1="296.37" x2="51.30" y2="296.37" stroke-width="1.0"/>
<line x1="371.10" y1="296.37" x2="365.40" y2="296.37" stroke-width="1.0"/>
<line x1="45.60" y1="285.85" x2="51.30" y2="285.85" stroke-width="1.0"/>
<line x1="371.10" y1="285.85" x2="365.40" y2="285.85" stroke-width="1.0"/>
<line x1="45.60" y1="275.34" x2="56.90" y2="275.34" stroke-width="1.0"/>
<line x1="371.10" y1="275.34" x2="359.80" y2="275.34" stroke-width="1.0"/>
<line x1="45.60" y1="264.82" x2="51.30" y2="264.82" stroke-width="1.0"/>
<line x1="371.10" y1="264.82" x2="365.40" y2="264.82" stroke-width="1.0"/>
<line x1="45.60" y1="254.31" x2="51.30" y2="254.31" stroke-width="1.0"/>
<line x1="371.10" y1="254.31" x2="365.40" y2="254.31" stroke-width="1.0"/>
<line x1="45.60" y1="243.79" x2="51.30" y2="243.79" stroke-width="1.0"/>
<line x1="371.10" y1="243.79" x2="365.40" y2="243.79" stroke-width="1.0"/>
<line x1="45.60" y1="233.28" x2="56.90" y2="233.28" stroke-width="1.0"/>
<line x1="371.10" y1="233.28" x2="359.80" y2="233.28" stroke-width="1.0"/>
<line x1="45.60" y1="222.76" x2="51.30" y2="222.76" stroke-width="1.0"/>
<line x1="371.10" y1="222.76" x2="365.40" y2="222.76" stroke-width="1.0"/>
<line x1="45.60" y1="212.25" x2="51.30" y2="212.25" stroke-width="1.0"/>
<line x1="371.10" y1="212.25" x2="365.40" y2="212.25" stroke-width="1.0"/>
<line x1="45.60" y1="201.73" x2="51.30" y2="201.73" stroke-width="1.0"/>
<line x1="371.10" y1="201.73" x2="365.40" y2="201.73" stroke-width="1.0"/>
<line x1="45.60" y1="191.22" x2="56.90" y2="191.22" stroke-width="1.0"/>
<line x1="371.10" y1="191.22" x2="359.80" y2="191.22" stroke-width="1.0"/>
<line x1="45.60" y1="180.70" x2="51.30" y2="180.70" stroke-width="1.0"/>
<line x1="371.10" y1="180.70" x2="365.40" y2="180.70" stroke-width="1.0"/>
<line x1="45.60" y1="170.19" x2="51.30" y2="170.19" stroke-width="1.0"/>
<line x1="371.10" y1="170.19" x2="365.40" y2="170.19" stroke-width="1.0"/>
<line x1="45.60" y1="159.67" x2="51.30" y2="159.67" stroke-width="1.0"/>
<line x1="371.10" y1="159.67" x2="365.40" y2="159.67" stroke-width="1.0"/>
<line x1="45.60" y1="149.16" x2="56.90" y2="149.16" stroke-width="1.0"/>
<line x1="371.10" y1="149.16" x2="359.80" y2="149.16" stroke-width="1.0"/>
<line x1="45.60" y1="138.64" x2="51.30" y2="138.64" stroke-width="1.0"/>
<line x1="371.10" y1="138.64" x2="365.40" y2="138.64" stroke-width="1.0"/>
<line x1="45.60" y1="128.13" x2="51.30" y2="128.13" stroke-width="1.0"/>
<line x1="371.10" y1="128.13" x2="365.40" y2="128.13" stroke-width="1.0"/>
<line x1="45.60" y1="117.61" x2="51.30" y2="117.61" stroke-width="1.0"/>
<line x1="371.10" y1="117.61" x2="365.40" y2="117.61" stroke-width="1.0"/>
<line x1="45.60" y1="107.10" x2="56.90" y2="107.10" stroke-width="1.0"/>
<line x1="371.10" y1="107.10" x2="359.80" y2="107.10" stroke-width="1.0"/>
<line x1="45.60" y1="96.58" x2="51.30" y2="96.58" stroke-width="1.0"/>
<line x1="371.10" y1="96.58" x2="365.40" y2="96.58" stroke-width="1.0"/>
<line x1="45.60" y1="86.07" x2="51.30" y2="86.07" stroke-width="1.0"/>
<line x1="371.10" y1="86.07" x2="365.40" y2="86.07" stroke-width="1.0"/>
<line x1="45.60" y1="75.55" x2="51.30" y2="75.55" stroke-width="1.0"/>
<line x1="371.10" y1="75.55" x2="365.40" y2="75.55" stroke-width="1.0"/>
<line x1="45.60" y1="65.04" x2="56.90" y2="65.04" stroke-width="1.0"/>
<line x1="371.10" y1="65.04" x2="359.80" y2="65.04" stroke-width="1.0"/>
<line x1="45.60" y1="54.52" x2="51.30" y2="54.52" stroke-width="1.0"/>
<line x1="371.10" y1="54.52" x2="365.40" y2="54.52" stroke-width="1.0"/>
<line x1="45.60" y1="44.01" x2="51.30" y2="44.01" stroke-width="1.0"/>
<line x1="371.10" y1="44.01" x2="365.40" y2="44.01" stroke-width="1.0"/>
<line x1="45.60" y1="33.49" x2="51.30" y2="33.49" stroke-width="1.0"/>
<line x1="371.10" y1="33.49" x2="365.40" y2="33.49" stroke-width="1.0"/>
<line x1="45.60" y1="22.98" x2="56.90" y2="22.98" stroke-width="1.0"/>
<line x1="371.10" y1="22.98" x2="359.80" y2="22.98" stroke-width="1.0"/>
<line x1="70.00" y1="17.20" x2="70.00" y2="21.40" stroke-width="1.1"/>
<line x1="70.00" y1="317.40" x2="70.00" y2="313.10" stroke-width="1.1"/>
<line x1="70.00" y1="317.40" x2="70.00" y2="320.00" stroke-width="1.1"/>
<line x1="70.00" y1="478.00" x2="70.00" y2="475.50" stroke-width="1.1"/>
<line x1="99.74" y1="17.20" x2="99.74" y2="21.40" stroke-width="1.1"/>
<line x1="99.74" y1="317.40" x2="99.74" y2="313.10" stroke-width="1.1"/>
<line x1="99.74" y1="317.40" x2="99.74" y2="320.00" stroke-width="1.1"/>
<line x1="99.74" y1="478.00" x2="99.74" y2="475.50" stroke-width="1.1"/>
<line x1="129.48" y1="17.20" x2="129.48" y2="25.70" stroke-width="1.1"/>
<line x1="129.48" y1="317.40" x2="129.48" y2="308.90" stroke-width="1.1"/>
<line x1="129.48" y1="317.40" x2="129.48" y2="322.90" stroke-width="1.1"/>
<line x1="129.48" y1="478.00" x2="129.48" y2="473.00" stroke-width="1.1"/>
<line x1="159.22" y1="17.20" x2="159.22" y2="21.40" stroke-width="1.1"/>
<line x1="159.22" y1="317.40" x2="159.22" y2="313.10" stroke-width="1.1"/>
<line x1="159.22" y1="317.40" x2="159.22" y2="320.00" stroke-width="1.1"/>
<line x1="159.22" y1="478.00" x2="159.22" y2="475.50" stroke-width="1.1"/>
<line x1="188.96" y1="17.20" x2="188.96" y2="21.40" stroke-width="1.1"/>
<line x1="188.96" y1="317.40" x2="188.96" y2="313.10" stroke-width="1.1"/>
<line x1="188.96" y1="317.40" x2="188.96" y2="320.00" stroke-width="1.1"/>
<line x1="188.96" y1="478.00" x2="188.96" y2="475.50" stroke-width="1.1"/>
<line x1="218.70" y1="17.20" x2="218.70" y2="21.40" stroke-width="1.1"/>
<line x1="218.70" y1="317.40" x2="218.70" y2="313.10" stroke-width="1.1"/>
<line x1="218.70" y1="317.40" x2="218.70" y2="320.00" stroke-width="1.1"/>
<line x1="218.70" y1="478.00" x2="218.70" y2="475.50" stroke-width="1.1"/>
<line x1="248.44" y1="17.20" x2="248.44" y2="25.70" stroke-width="1.1"/>
<line x1="248.44" y1="317.40" x2="248.44" y2="308.90" stroke-width="1.1"/>
<line x1="248.44" y1="317.40" x2="248.44" y2="322.90" stroke-width="1.1"/>
<line x1="248.44" y1="478.00" x2="248.44" y2="473.00" stroke-width="1.1"/>
<line x1="278.18" y1="17.20" x2="278.18" y2="21.40" stroke-width="1.1"/>
<line x1="278.18" y1="317.40" x2="278.18" y2="313.10" stroke-width="1.1"/>
<line x1="278.18" y1="317.40" x2="278.18" y2="320.00" stroke-width="1.1"/>
<line x1="278.18" y1="478.00" x2="278.18" y2="475.50" stroke-width="1.1"/>
<line x1="307.92" y1="17.20" x2="307.92" y2="21.40" stroke-width="1.1"/>
<line x1="307.92" y1="317.40" x2="307.92" y2="313.10" stroke-width="1.1"/>
<line x1="307.92" y1="317.40" x2="307.92" y2="320.00" stroke-width="1.1"/>
<line x1="307.92" y1="478.00" x2="307.92" y2="475.50" stroke-width="1.1"/>
<line x1="337.66" y1="17.20" x2="337.66" y2="21.40" stroke-width="1.1"/>
<line x1="337.66" y1="317.40" x2="337.66" y2="313.10" stroke-width="1.1"/>
<line x1="337.66" y1="317.40" x2="337.66" y2="320.00" stroke-width="1.1"/>
<line x1="337.66" y1="478.00" x2="337.66" y2="475.50" stroke-width="1.1"/>
<line x1="367.40" y1="17.20" x2="367.40" y2="25.70" stroke-width="1.1"/>
<line x1="367.40" y1="317.40" x2="367.40" y2="308.90" stroke-width="1.1"/>
<line x1="367.40" y1="317.40" x2="367.40" y2="322.90" stroke-width="1.1"/>
<line x1="367.40" y1="478.00" x2="367.40" y2="473.00" stroke-width="1.1"/>
<line x1="45.60" y1="458.36" x2="53.20" y2="458.36" stroke-width="1.0"/>
<line x1="371.10" y1="458.36" x2="364.10" y2="458.36" stroke-width="1.0"/>
<line x1="45.60" y1="442.40" x2="51.20" y2="442.40" stroke-width="1.0"/>
<line x1="371.10" y1="442.40" x2="366.10" y2="442.40" stroke-width="1.0"/>
<line x1="45.60" y1="428.91" x2="51.20" y2="428.91" stroke-width="1.0"/>
<line x1="371.10" y1="428.91" x2="366.10" y2="428.91" stroke-width="1.0"/>
<line x1="45.60" y1="417.23" x2="51.20" y2="417.23" stroke-width="1.0"/>
<line x1="371.10" y1="417.23" x2="366.10" y2="417.23" stroke-width="1.0"/>
<line x1="45.60" y1="406.92" x2="51.20" y2="406.92" stroke-width="1.0"/>
<line x1="371.10" y1="406.92" x2="366.10" y2="406.92" stroke-width="1.0"/>
<line x1="45.60" y1="397.70" x2="53.20" y2="397.70" stroke-width="1.0"/>
<line x1="371.10" y1="397.70" x2="364.10" y2="397.70" stroke-width="1.0"/>
<line x1="45.60" y1="389.36" x2="51.20" y2="389.36" stroke-width="1.0"/>
<line x1="371.10" y1="389.36" x2="366.10" y2="389.36" stroke-width="1.0"/>
<line x1="45.60" y1="381.74" x2="51.20" y2="381.74" stroke-width="1.0"/>
<line x1="371.10" y1="381.74" x2="366.10" y2="381.74" stroke-width="1.0"/>
<line x1="45.60" y1="374.74" x2="51.20" y2="374.74" stroke-width="1.0"/>
<line x1="371.10" y1="374.74" x2="366.10" y2="374.74" stroke-width="1.0"/>
<line x1="45.60" y1="368.26" x2="51.20" y2="368.26" stroke-width="1.0"/>
<line x1="371.10" y1="368.26" x2="366.10" y2="368.26" stroke-width="1.0"/>
<line x1="45.60" y1="362.22" x2="53.20" y2="362.22" stroke-width="1.0"/>
<line x1="371.10" y1="362.22" x2="364.10" y2="362.22" stroke-width="1.0"/>
<line x1="45.60" y1="356.57" x2="51.20" y2="356.57" stroke-width="1.0"/>
<line x1="371.10" y1="356.57" x2="366.10" y2="356.57" stroke-width="1.0"/>
<line x1="45.60" y1="351.26" x2="51.20" y2="351.26" stroke-width="1.0"/>
<line x1="371.10" y1="351.26" x2="366.10" y2="351.26" stroke-width="1.0"/>
<line x1="45.60" y1="346.26" x2="51.20" y2="346.26" stroke-width="1.0"/>
<line x1="371.10" y1="346.26" x2="366.10" y2="346.26" stroke-width="1.0"/>
<line x1="45.60" y1="341.53" x2="51.20" y2="341.53" stroke-width="1.0"/>
<line x1="371.10" y1="341.53" x2="366.10" y2="341.53" stroke-width="1.0"/>
<line x1="45.60" y1="337.04" x2="53.20" y2="337.04" stroke-width="1.0"/>
<line x1="371.10" y1="337.04" x2="364.10" y2="337.04" stroke-width="1.0"/>
<line x1="45.60" y1="332.77" x2="51.20" y2="332.77" stroke-width="1.0"/>
<line x1="371.10" y1="332.77" x2="366.10" y2="332.77" stroke-width="1.0"/>
<line x1="45.60" y1="328.70" x2="51.20" y2="328.70" stroke-width="1.0"/>
<line x1="371.10" y1="328.70" x2="366.10" y2="328.70" stroke-width="1.0"/>
<line x1="45.60" y1="324.81" x2="51.20" y2="324.81" stroke-width="1.0"/>
<line x1="371.10" y1="324.81" x2="366.10" y2="324.81" stroke-width="1.0"/>
<line x1="45.60" y1="321.09" x2="51.20" y2="321.09" stroke-width="1.0"/>
<line x1="371.10" y1="321.09" x2="366.10" y2="321.09" stroke-width="1.0"/>
</g>
<text x="51.70" y="14.30" font-size="12.00" text-anchor="start" fill="#000">13000 GeV pp</text>
<text x="364.50" y="14.30" font-size="12.00" text-anchor="end" fill="#000">Jets</text>
<text x="110.30" y="42.80" font-size="12.08" text-anchor="start" fill="#000">Vertical slice, 2.00 &lt; ln (RΔ R) &lt; 2.33</text>
<defs><clipPath id="c0"><rect x="0" y="0" width="393" height="317.6"/></clipPath></defs>
<text x="41.20" y="27.38" font-size="10.80" text-anchor="end" fill="#000">1.4</text>
<text x="41.20" y="69.44" font-size="10.80" text-anchor="end" fill="#000">1.2</text>
<text x="41.20" y="111.50" font-size="10.80" text-anchor="end" fill="#000">1</text>
<text x="41.20" y="153.56" font-size="10.80" text-anchor="end" fill="#000">0.8</text>
<text x="41.20" y="195.62" font-size="10.80" text-anchor="end" fill="#000">0.6</text>
<text x="41.20" y="237.68" font-size="10.80" text-anchor="end" fill="#000">0.4</text>
<text x="41.20" y="279.74" font-size="10.80" text-anchor="end" fill="#000">0.2</text>
<text x="41.20" y="321.80" font-size="10.80" text-anchor="end" fill="#000" clip-path="url(#c0)">0</text>
<text x="38.00" y="340.34" font-size="11.40" text-anchor="end" fill="#000">2</text>
<text x="374.30" y="340.34" font-size="11.40" text-anchor="start" fill="#000">2</text>
<text x="38.00" y="401.00" font-size="11.40" text-anchor="end" fill="#000">1</text>
<text x="374.30" y="401.00" font-size="11.40" text-anchor="start" fill="#000">1</text>
<text x="38.00" y="461.66" font-size="11.40" text-anchor="end" fill="#000">0.5</text>
<text x="374.30" y="461.66" font-size="11.40" text-anchor="start" fill="#000">0.5</text>
<text x="129.48" y="489.20" font-size="11.00" text-anchor="middle" fill="#000">2</text>
<text x="248.44" y="489.20" font-size="11.00" text-anchor="middle" fill="#000">4</text>
<text x="367.40" y="489.20" font-size="11.00" text-anchor="middle" fill="#000">6</text>
<text x="372.40" y="503.50" font-size="12.70" text-anchor="end" fill="#000">ln (1/z)</text>
<text x="94.50" y="64.60" font-size="9.35" text-anchor="start" fill="#000">ATLAS</text>
<text x="94.50" y="77.50" font-size="9.35" text-anchor="start" fill="#000">Pythia 8.315 default</text>
<text x="94.50" y="90.40" font-size="9.35" text-anchor="start" fill="#000">Pythia 8.315 tune-AU2</text>
<text x="94.50" y="103.40" font-size="9.35" text-anchor="start" fill="#000">Pythia 8.315 tune-AU2lox</text>
<text x="94.50" y="116.70" font-size="9.35" text-anchor="start" fill="#000">Pythia 8.315 tune-AU2loxx</text>
<text x="94.50" y="129.70" font-size="9.35" text-anchor="start" fill="#000">Pythia 8.315 tune-AU2m</text>
<rect x="73.80" y="59.50" width="5.60" height="5.60" fill="#000"/>
<line x1="64.0" y1="75.2" x2="89.0" y2="75.2" stroke="#0000ff" stroke-width="1.4" stroke-opacity="0.62"/>
<path d="M76.60,72.38 L73.74,77.84 L79.46,77.84 Z" fill="#0000ff"/>
<line x1="64.0" y1="88.1" x2="89.0" y2="88.1" stroke="#a80050" stroke-width="1.4" stroke-opacity="0.6" stroke-dasharray="2.3,1.9"/>
<path d="M76.60,90.80 L73.85,85.55 L79.35,85.55 Z" fill="#a80050"/>
<line x1="64.0" y1="101.1" x2="89.0" y2="101.1" stroke="#c81e50" stroke-width="1.4" stroke-opacity="0.6" stroke-dasharray="2.6,2.1,0.8,2.9"/>
<rect x="73.6" y="97.6" width="6" height="7" fill="#fff"/>
<path d="M76.60,98.30 L78.50,101.10 L76.60,103.90 L74.70,101.10 Z" fill="none" stroke="#c81e50" stroke-width="1.2"/>
<line x1="64.0" y1="114.4" x2="89.0" y2="114.4" stroke="#c85014" stroke-width="1.4" stroke-opacity="0.7" stroke-dasharray="3.8,2.0,1.0,2.0"/>
<rect x="74.20" y="111.50" width="4.80" height="4.80" fill="none" stroke="#c85014" stroke-width="1.0"/>
<line x1="64.0" y1="127.4" x2="89.0" y2="127.4" stroke="#a84a18" stroke-width="1.4" stroke-opacity="0.8"/>
<polygon points="76.60,124.20 77.36,126.06 79.36,126.20 77.83,127.50 78.30,129.45 76.60,128.39 74.90,129.45 75.37,127.50 73.84,126.20 75.84,126.06" fill="#a84a18"/>
<text x="207.90" y="302.20" font-size="8.00" text-anchor="middle" fill="#aaaaaa">(ATLAS_2020_I1790256)</text>
<text transform="translate(379.2,127.5) rotate(-90)" font-size="9.5" fill="#7c7c7c">Rivet 4.1.0, ≥ 3.6M events</text>
<text transform="translate(381.2,311.8) rotate(-90)" font-size="9.25" fill="#7c7c7c">mcplots.cern.ch [arXiv:2401.10621]</text>
<text transform="translate(18.9,427) rotate(-90)" font-size="9">Ratio to ATLAS</text>
<g fill="#000">
<text transform="translate(16.1,148) rotate(-90)" font-size="11">#</text>
<text transform="translate(9.4,132.6) rotate(-90)" font-size="9.6">1</text>
<line x1="12.7" y1="121" x2="12.7" y2="141" stroke="#000" stroke-width="1.1"/>
<text transform="translate(23.4,140.5) rotate(-90)" font-size="10">N</text>
<text transform="translate(26.4,132.6) rotate(-90)" font-size="7">jets</text>
<text transform="translate(16.1,120.6) rotate(-90)" font-size="11">#</text>
<line x1="13.2" y1="17.9" x2="13.2" y2="112.7" stroke="#000" stroke-width="1.1"/>
<text transform="translate(7.3,94.0) rotate(-90)" font-size="12">d</text>
<text transform="translate(2.8,87.5) rotate(-90)" font-size="7">2</text>
<text transform="translate(7.3,80.2) rotate(-90)" font-size="11.5">N</text>
<text transform="translate(11.0,71) rotate(-90)" font-size="7.6">emissions</text>
<text transform="translate(24.4,114) rotate(-90)" font-size="12">dln (R/Δ R) ln (1/z)</text>
</g>
</svg></body></html>
